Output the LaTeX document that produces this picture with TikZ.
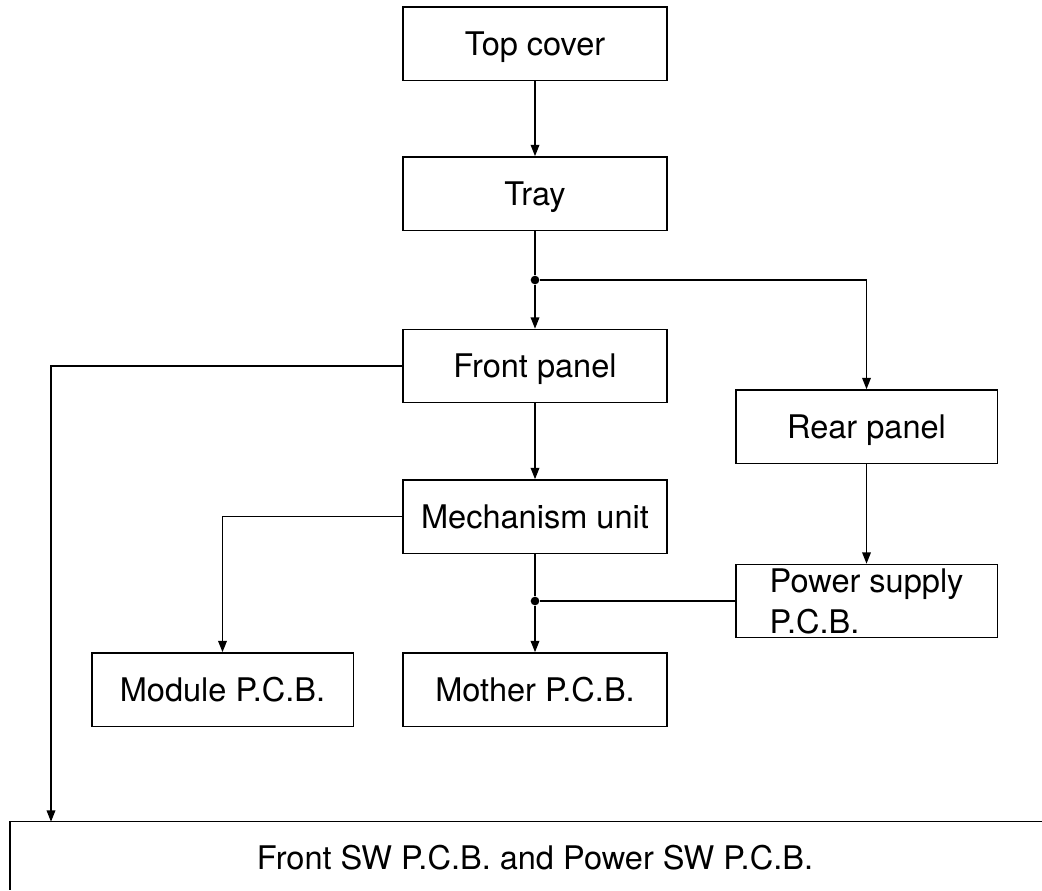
\documentclass[tikz,border=0pt]{standalone}
\usepackage{fontspec}
\setmainfont{TeX Gyre Heros}
\usetikzlibrary{arrows.meta}
\begin{document}
\begin{tikzpicture}[x=0.75pt,y=-0.75pt,
	box/.style={draw,line width=1pt,minimum width=198pt,minimum height=55pt,inner sep=0pt,
		text depth=0pt,font=\fontsize{24.4}{30.75}\selectfont},
	sidebox/.style={box,minimum width=196pt},
	dot/.style={circle,fill,inner sep=0pt,minimum size=6.5pt},
	wire/.style={line width=1pt},
	link/.style={wire,-{Triangle[width=6.5pt,length=8.5pt]}}]
		\useasboundingbox (0,0) rectangle (1042,890);
		\node[box] (topcover) at (535,43.5) {Top cover};
		\node[box] (tray) at (535,193.5) {Tray};
		\node[dot] (split1) at (535,280) {};
		\node[box] (front) at (535,366) {Front panel};
		\node[sidebox] (rear) at (866.5,426.5) {Rear panel};
		\node[box] (mech) at (535,516.5) {Mechanism unit};
		\node[sidebox,align=left] (power) at (866.5,601) {Power supply\\P.C.B.};
		\node[dot] (split2) at (535,601) {};
		\node[sidebox] (module) at (222.5,689.5) {Module P.C.B.};
		\node[box] (mother) at (535,689.5) {Mother P.C.B.};
		\coordinate (swin) at (51,821.7);
		\draw[wire] (1042,821.7) -| (10,890);
		\node[anchor=base,font=\fontsize{24.4}{30.75}\selectfont] (swpcb) at (535,869) {Front SW P.C.B. and Power SW P.C.B.};
		\draw[link] (topcover) -- (tray);
		\draw[wire] (tray) -- (split1);
		\draw[link] (split1) -- (front);
		\draw[link] (split1) -| (rear);
		\draw[link] (front.west) -| (swin);
		\draw[link] (front) -- (mech);
		\draw[link] (mech.west) -| (module);
		\draw[wire] (mech) -- (split2);
		\draw[link] (split2) -- (mother);
		\draw[link] (rear) -- (power);
		\draw[wire] (power.west) -- (split2);
\end{tikzpicture}
\end{document}
